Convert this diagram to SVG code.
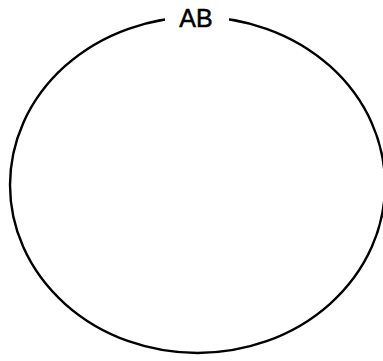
<svg xmlns="http://www.w3.org/2000/svg" width="383" height="361" viewBox="0 0 383 361">
<style>
.outline{fill:none;stroke:#000;stroke-width:2.4}
.lbl{font-family:"Liberation Sans",Arial,sans-serif;font-size:25px;fill:#000;stroke:#000;stroke-width:0.5;text-anchor:middle}
</style>
<rect width="383" height="361" fill="#fff"/>
<g id="set-AB">
<ellipse class="outline" cx="197.5" cy="185" rx="187.5" ry="168"/>
<rect x="165" y="4" width="64" height="30" fill="#fff"/>
<text class="lbl" x="196" y="27">AB</text>
</g>
</svg>
